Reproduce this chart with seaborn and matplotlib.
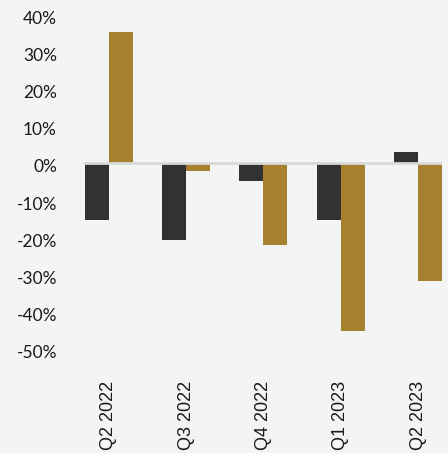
import matplotlib
matplotlib.use("Agg")
import matplotlib.pyplot as plt
import matplotlib.transforms as mtransforms
import seaborn as sns
import pandas as pd

quarters = ["Q2 2022", "Q3 2022", "Q4 2022", "Q1 2023", "Q2 2023"]
series_names = ["Series A", "Series B"]
series_a = [-15.3, -20.7, -4.8, -15.3, 3.0]
series_b = [35.2, -2.1, -22.0, -45.2, -31.7]
y_ticks = [40, 30, 20, 10, 0, -10, -20, -30, -40, -50]

df = pd.DataFrame({
    "quarter": quarters * 2,
    "series": [series_names[0]] * len(quarters) + [series_names[1]] * len(quarters),
    "value": series_a + series_b,
})

bg = "#f3f4f4"
sns.set_style("white")
fig = plt.figure(figsize=(4.48, 4.53), dpi=100, facecolor=bg)
ax = fig.add_axes([0.1875, 0.2296, 0.7991, 0.7394])
ax.set_facecolor(bg)

sns.barplot(
    data=df, x="quarter", y="value", hue="series",
    palette=["#323232", "#a67f2f"], width=0.62, saturation=1,
    order=quarters, hue_order=series_names, legend=False, ax=ax,
    linewidth=0, edgecolor="none",
)

ax.axhline(0, color="#d8d9d9", lw=2, zorder=5)
ax.set_xlim(-0.32, 4.31)
ax.set_ylim(-50, 40)
ax.set_yticks(y_ticks)
ax.set_yticklabels([f"{t}%" for t in y_ticks], fontfamily="Lato", fontsize=12.5, color="#1a1a1a")
ax.set_xticks(range(len(quarters)))
ax.set_xticklabels(quarters, rotation=90, fontfamily="Liberation Sans", fontsize=13, color="#1a1a1a")
ax.tick_params(axis="y", length=0, pad=19.5)
ax.tick_params(axis="x", length=0, pad=23)
# nudge the percentage labels slightly below their gridline positions
shift = mtransforms.ScaledTranslation(0, -3 / 100, fig.dpi_scale_trans)
for lbl in ax.get_yticklabels():
    lbl.set_transform(lbl.get_transform() + shift)
ax.set_xlabel("")
ax.set_ylabel("")
for s in ax.spines.values():
    s.set_visible(False)

fig.savefig("out.png", dpi=100, facecolor=bg)
